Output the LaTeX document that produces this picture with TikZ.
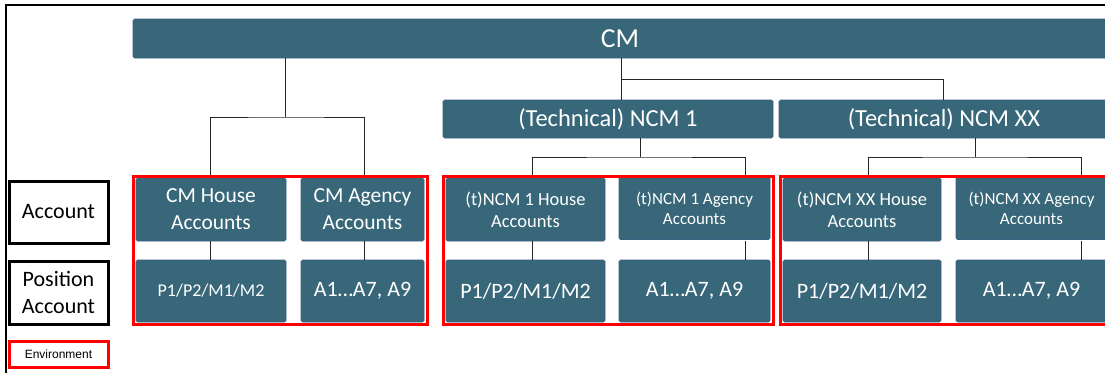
\documentclass[tikz,border=0pt]{standalone}
\usepackage{fontspec}
\setmainfont{Carlito}
\newfontfamily\arialf{Liberation Sans}
\definecolor{boxc}{HTML}{376779}
\definecolor{boxe}{HTML}{3A5F80}
\definecolor{envred}{HTML}{FF0000}
\newcommand{\fsz}[2]{\fontsize{#1}{#2}\selectfont}
\begin{document}
\begin{tikzpicture}[x=1pt,y=-1pt,
  tealbox/.style={fill=boxc, draw=boxe, line width=0.6pt, rounded corners=1.5pt, text=white, align=center, inner sep=0pt, anchor=center},
  grp/.style={draw=envred, line width=3pt, inner sep=0pt, anchor=center},
  lab/.style={draw=black, line width=3pt, inner sep=0pt, anchor=center, align=center, fill=white},
  conn/.style={draw=black!85, line width=0.9pt}]
\clip (0,0) rectangle (1105,373);
\fill[white] (0,0) rectangle (1105,373);
% frame
\draw[line width=2.5pt] (6,373) -- (6,5) -- (1106,5);
% nodes
\node[tealbox, minimum width=974pt, minimum height=39pt, font=\fsz{27.5pt}{33pt}] (cm) at (620,38.5) {CM};
\node[tealbox, minimum width=330pt, minimum height=38pt, font=\fsz{24.5pt}{29pt}] (ncm1) at (608,119) {(Technical) NCM 1};
\node[tealbox, minimum width=330pt, minimum height=38pt, font=\fsz{24.5pt}{29pt}] (ncmxx) at (944,119) {(Technical) NCM XX};
% coordinates for connectors
\coordinate (b1) at (285,117);
\coordinate (b0) at (621,79);
\coordinate (b0r) at (943,79);
\coordinate (b2) at (640,157);
\coordinate (b3) at (975,157);
\coordinate (x1h) at (210,0);
\coordinate (x1a) at (364,0);
\coordinate (x2h) at (532,0);
\coordinate (x2a) at (745,0);
\coordinate (x3h) at (868,0);
\coordinate (x3a) at (1081,0);
% inner boxes
\node[tealbox, minimum width=150pt, minimum height=63pt, font=\fsz{21.5pt}{27pt}] (g1h) at (211,209.5) {CM House\\Accounts};
\node[tealbox, minimum width=123pt, minimum height=63pt, font=\fsz{21.5pt}{27pt}] (g1a) at (362.5,209.5) {CM Agency\\Accounts};
\node[tealbox, minimum width=150pt, minimum height=62pt, font=\fsz{18pt}{22pt}] (g1hp) at (211,291) {P1/P2/M1/M2};
\node[tealbox, minimum width=123pt, minimum height=62pt, font=\fsz{22pt}{26pt}] (g1ap) at (362.5,291) {A1…A7, A9};
\node[tealbox, minimum width=159pt, minimum height=63pt, font=\fsz{18.5pt}{22pt}] (g2h) at (525.5,209.5) {(t)NCM 1 House\\Accounts};
\node[tealbox, minimum width=151pt, minimum height=63pt, font=\fsz{17pt}{20pt}] (g2a) at (694.5,208) {(t)NCM 1 Agency\\Accounts};
\node[tealbox, minimum width=159pt, minimum height=62pt, font=\fsz{22pt}{26pt}] (g2hp) at (525.5,291) {P1/P2/M1/M2};
\node[tealbox, minimum width=151pt, minimum height=62pt, font=\fsz{22pt}{26pt}] (g2ap) at (694.5,291) {A1…A7, A9};
\node[tealbox, minimum width=158pt, minimum height=63pt, font=\fsz{18.5pt}{22pt}] (g3h) at (862,209.5) {(t)NCM XX House\\Accounts};
\node[tealbox, minimum width=151pt, minimum height=63pt, font=\fsz{17pt}{20pt}] (g3a) at (1031.5,208) {(t)NCM XX Agency\\Accounts};
\node[tealbox, minimum width=158pt, minimum height=62pt, font=\fsz{22pt}{26pt}] (g3hp) at (862,291) {P1/P2/M1/M2};
\node[tealbox, minimum width=151pt, minimum height=62pt, font=\fsz{22pt}{26pt}] (g3ap) at (1031.5,291) {A1…A7, A9};
% connectors
\draw[conn] (cm.south -| b1) -- (b1);
\draw[conn] (g1h.north -| x1h) |- (b1) -| (g1a.north -| x1a);
\draw[conn] (cm.south -| b0) -- (ncm1.north -| b0);
\draw[conn] (b0) -| (ncmxx.north -| b0r);
\draw[conn] (ncm1.south -| b2) -- (b2);
\draw[conn] (g2h.north -| x2h) |- (b2) -| (g2a.north -| x2a);
\draw[conn] (ncmxx.south -| b3) -- (b3);
\draw[conn] (g3h.north -| x3h) |- (b3) -| (g3a.north -| x3a);
\draw[conn] (g1h.south -| x1h) -- (g1hp.north -| x1h);
\draw[conn] (g1a.south -| x1a) -- (g1ap.north -| x1a);
\draw[conn] (g2h.south -| x2h) -- (g2hp.north -| x2h);
\draw[conn] ([yshift=-1.5pt]g2a.south -| x2a) -- (g2ap.north -| x2a);
\draw[conn] (g3h.south -| x3h) -- (g3hp.north -| x3h);
\draw[conn] ([yshift=-1.5pt]g3a.south -| x3a) -- (g3ap.north -| x3a);
% environment groups
\node[grp, minimum width=294pt, minimum height=148pt] (grp1) at (280,250) {};
\node[grp, minimum width=330pt, minimum height=148pt] (grp2) at (608,250) {};
\node[grp, minimum width=330pt, minimum height=148pt] (grp3) at (945,250) {};
% legend
\node[lab, minimum width=99pt, minimum height=62pt, font=\fsz{22pt}{27pt}] (lacc) at (58.5,212) {Account};
\node[lab, minimum width=99pt, minimum height=63pt, font=\fsz{22pt}{27pt}] (lpos) at (58.5,292.5) {Position\\Account};
\node[lab, draw=envred, minimum width=99pt, minimum height=26pt, font={\arialf\fsz{12pt}{14pt}}] (lenv) at (58.5,354) {Environment};
\end{tikzpicture}
\end{document}
